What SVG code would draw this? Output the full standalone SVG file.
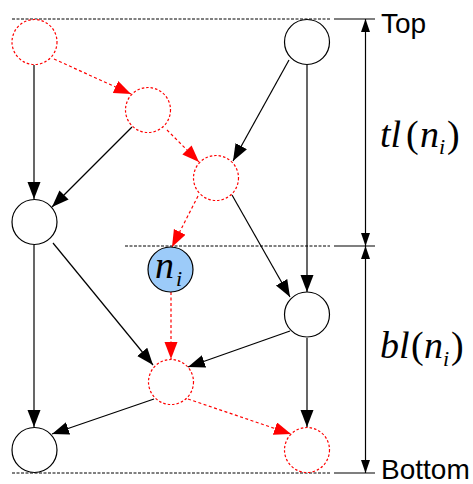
<svg xmlns="http://www.w3.org/2000/svg" width="473" height="484" viewBox="0 0 473 484">
<style>
.n{fill:#fff;stroke:#000;stroke-width:1.2}
.r{fill:#fff;stroke:#f00;stroke-width:1.2;stroke-dasharray:2.5,2}
.e{stroke:#000;stroke-width:1.2;fill:none;marker-end:url(#ab)}
.er{stroke:#f00;stroke-width:1.2;fill:none;stroke-dasharray:3,2.5;marker-end:url(#ar)}
.g{stroke:#000;stroke-width:1;stroke-dasharray:3,1.5;fill:none}
.s{stroke:#000;stroke-width:1.2;fill:none}
.lab{font-family:"Liberation Sans",Arial,sans-serif;font-size:28px;fill:#000}
.m{font-family:"Liberation Serif","Times New Roman",serif;font-size:38px;fill:#000}
.it{font-style:italic}
.sub{font-style:italic;font-size:22px}
</style>
<defs>
<marker id="ab" markerUnits="userSpaceOnUse" markerWidth="18" markerHeight="14" refX="17" refY="6.5" orient="auto"><path d="M0,0 L17,6.5 L0,13 z" fill="#000"/></marker>
<marker id="ar" markerUnits="userSpaceOnUse" markerWidth="18" markerHeight="14" refX="17" refY="6.5" orient="auto"><path d="M0,0 L17,6.5 L0,13 z" fill="#f00"/></marker>
<marker id="ad" markerUnits="userSpaceOnUse" markerWidth="14" markerHeight="9" refX="13" refY="4.5" orient="auto-start-reverse"><path d="M0,0 L13,4.5 L0,9 z" fill="#000"/></marker>
</defs>
<g id="guides">
<line class="g" x1="12" y1="19" x2="330" y2="19"/>
<line class="s" x1="334" y1="19" x2="375" y2="19"/>
<line class="g" x1="125" y1="246" x2="330" y2="246"/>
<line class="s" x1="334" y1="246" x2="375" y2="246"/>
<line class="g" x1="12" y1="473" x2="330" y2="473"/>
<line class="s" x1="334" y1="473" x2="375" y2="473"/>
<line class="s" x1="365.5" y1="19" x2="365.5" y2="246" style="marker-start:url(#ad);marker-end:url(#ad)"/>
<line class="s" x1="365.5" y1="246" x2="365.5" y2="473" style="marker-start:url(#ad);marker-end:url(#ad)"/>
<text class="lab" x="381" y="33">Top</text>
<text class="lab" x="381" y="479">Bottom</text>
<text class="m" y="147"><tspan class="it" x="380">tl</tspan><tspan x="406">(</tspan><tspan class="it" x="420">n</tspan><tspan class="sub" x="439" y="154">i</tspan><tspan x="447" y="147">)</tspan></text>
<text class="m" y="358"><tspan class="it" x="380">bl</tspan><tspan x="411">(</tspan><tspan class="it" x="424">n</tspan><tspan class="sub" x="443" y="366">i</tspan><tspan x="451" y="358">)</tspan></text>
</g>
<g id="connectors">
<line class="e" x1="34" y1="65" x2="34" y2="199"/>
<line class="er" x1="54" y1="59" x2="131" y2="94"/>
<line class="e" x1="132" y1="127" x2="52" y2="207"/>
<line class="er" x1="167" y1="130" x2="199" y2="162"/>
<line class="e" x1="289" y1="60" x2="233" y2="161"/>
<line class="e" x1="307" y1="65" x2="307" y2="292"/>
<line class="e" x1="232" y1="195" x2="290" y2="297"/>
<line class="er" x1="198" y1="196" x2="172" y2="247"/>
<line class="e" x1="53" y1="243" x2="153" y2="365"/>
<line class="e" x1="34" y1="245" x2="34" y2="427"/>
<line class="er" x1="171" y1="292" x2="171" y2="359"/>
<line class="e" x1="290" y1="331" x2="188" y2="367"/>
<line class="e" x1="307" y1="338" x2="307" y2="427"/>
<line class="e" x1="154" y1="399" x2="52" y2="434"/>
<line class="er" x1="188" y1="399" x2="291" y2="434"/>
</g>
<g id="nA"><circle class="r" cx="34.5" cy="42" r="22.5"/></g>
<g id="nB"><circle class="r" cx="148" cy="110" r="22.5"/></g>
<g id="nC"><circle class="r" cx="216" cy="178" r="22.5"/></g>
<g id="nD"><circle class="n" cx="307" cy="42" r="22.5"/></g>
<g id="nE"><circle class="n" cx="34.5" cy="222" r="22.5"/></g>
<g id="nNi"><circle cx="170.5" cy="269.5" r="22.5" fill="#9ccbf9" stroke="#000" stroke-width="1.2"/><text class="m" y="278"><tspan class="it" x="155">n</tspan><tspan class="sub" x="176" y="286">i</tspan></text></g>
<g id="nF"><circle class="n" cx="307" cy="314.5" r="22.5"/></g>
<g id="nG"><circle class="r" cx="171" cy="382" r="22.5"/></g>
<g id="nH"><circle class="n" cx="34.5" cy="450" r="22.5"/></g>
<g id="nI"><circle class="r" cx="307" cy="450" r="22.5"/></g>
</svg>
